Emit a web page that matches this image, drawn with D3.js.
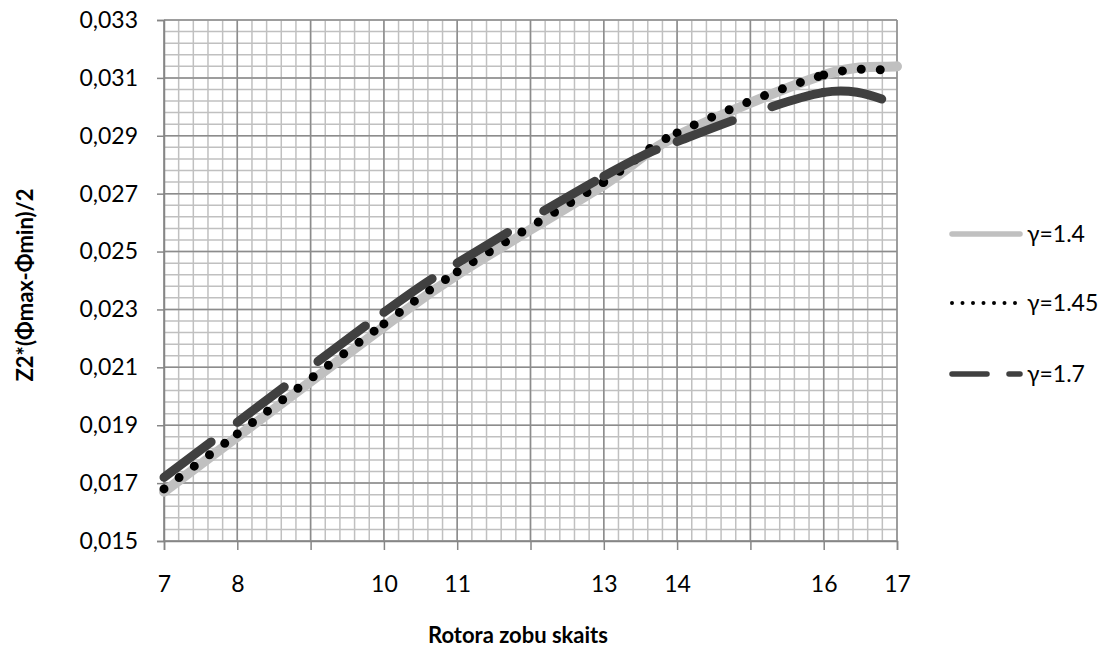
<!DOCTYPE html>
<html>
<head>
<meta charset="utf-8">
<script src="https://cdn.jsdelivr.net/npm/d3@7"></script>
<style>
  body { margin: 0; background: #fff; }
  text { font-family: Lato, 'Open Sans', sans-serif; fill: #000; }
</style>
</head>
<body>
<div id="chart"></div>
<script>
// data (teeth count vs value)
var categories = [7, 8, 10, 11, 13, 14, 16, 17];
var gamma140 = [0.0167, 0.0186, 0.0224, 0.0242, 0.0273, 0.0290, 0.0311, 0.0314];
var gamma145 = [0.0168, 0.0187, 0.0225, 0.0243, 0.0274, 0.0291, 0.0311, 0.03125];
var gamma170 = [0.0172, 0.0191, 0.0229, 0.0246, 0.0276, 0.0288, 0.0305, 0.0301];
var xTicks = [7, 8, 9, 10, 11, 12, 13, 14, 15, 16, 17];
var yTicks = [0.015, 0.017, 0.019, 0.021, 0.023, 0.025, 0.027, 0.029, 0.031, 0.033];
var seriesNames = ['γ=1.4', 'γ=1.45', 'γ=1.7'];

var width = 1103, height = 647;
var plotLeft = 164, plotRight = 897, plotTop = 20, plotBottom = 541;

var svg = d3.select('#chart').append('svg')
    .attr('width', width)
    .attr('height', height);

var x = d3.scaleLinear().domain([7, 17]).range([plotLeft, plotRight]);
var y = d3.scaleLinear().domain([0.015, 0.033]).range([plotBottom, plotTop]);

// minor grid
var grid = svg.append('g');
d3.range(0, 51).forEach(function(i){
    var v = 7 + i * 0.2;
    grid.append('line')
        .attr('x1', x(v)).attr('x2', x(v))
        .attr('y1', plotTop).attr('y2', plotBottom)
        .attr('stroke', '#c0c0c0').attr('stroke-width', 1.5);
});
d3.range(0, 46).forEach(function(i){
    var v = 0.015 + i * 0.0004;
    grid.append('line')
        .attr('x1', plotLeft).attr('x2', plotRight)
        .attr('y1', y(v)).attr('y2', y(v))
        .attr('stroke', '#c0c0c0').attr('stroke-width', 1.5);
});
// major grid
xTicks.forEach(function(v){
    grid.append('line')
        .attr('x1', x(v)).attr('x2', x(v))
        .attr('y1', plotTop).attr('y2', plotBottom)
        .attr('stroke', '#8c8c8c').attr('stroke-width', 1.5);
});
yTicks.forEach(function(v){
    grid.append('line')
        .attr('x1', plotLeft).attr('x2', plotRight)
        .attr('y1', y(v)).attr('y2', y(v))
        .attr('stroke', '#8c8c8c').attr('stroke-width', 1.5);
});

// axes
var lt = d3.formatLocale({decimal: ',', thousands: ' ', grouping: [3], currency: ['', '']});
var yAxis = d3.axisLeft(y).tickValues(yTicks).tickSize(7).tickPadding(19)
    .tickFormat(lt.format('.3f'));
var xAxis = d3.axisBottom(x).tickValues(xTicks).tickSize(9).tickPadding(26)
    .tickFormat(function(d){ return categories.indexOf(d) >= 0 ? d : ''; });

svg.append('g').attr('transform', 'translate(' + plotLeft + ',0)').call(yAxis);
svg.append('g').attr('transform', 'translate(0,' + plotBottom + ')').call(xAxis);
svg.selectAll('.domain').attr('stroke', '#868686').attr('stroke-width', 1.5);
svg.selectAll('.tick line').attr('stroke', '#868686').attr('stroke-width', 1.5);
svg.selectAll('.tick text').style('font-size', '23px').attr('fill', '#000');

// smoothed segments between points, each one drawn alone so the dash restarts (like Excel)
function segments(vals){
    var pts = categories.map(function(c, i){ return [x(c), y(vals[i])]; });
    var out = [];
    for (var i = 0; i < pts.length - 1; i++) {
        var p0 = pts[Math.max(i - 1, 0)], p1 = pts[i], p2 = pts[i + 1], p3 = pts[Math.min(i + 2, pts.length - 1)];
        var p = d3.path();
        p.moveTo(p1[0], p1[1]);
        p.bezierCurveTo(
            p1[0] + (p2[0] - p0[0]) / 6, p1[1] + (p2[1] - p0[1]) / 6,
            p2[0] - (p3[0] - p1[0]) / 6, p2[1] - (p3[1] - p1[1]) / 6,
            p2[0], p2[1]);
        out.push(p.toString());
    }
    return out;
}

var styles = [
    {data: gamma140, color: '#c0c0c0', w: 10, dash: null, lw: 5.5, ldash: null},
    {data: gamma145, color: '#000000', w: 9, dash: '0,19', lw: 4, ldash: '0,10.5'},
    {data: gamma170, color: '#404040', w: 9, dash: '59,42', lw: 5.5, ldash: '35,22'}
];

styles.forEach(function(s){
    svg.append('g').selectAll('path')
        .data(segments(s.data))
        .enter()
        .append('path')
        .attr('d', function(d){ return d; })
        .attr('fill', 'none')
        .attr('stroke', s.color)
        .attr('stroke-width', s.w)
        .attr('stroke-linecap', 'round')
        .attr('stroke-dasharray', s.dash);
});

// legend
var legY = [234, 303, 374];
styles.forEach(function(s, i){
    svg.append('line')
        .attr('x1', 952).attr('x2', 1020)
        .attr('y1', legY[i]).attr('y2', legY[i])
        .attr('stroke', s.color)
        .attr('stroke-width', s.lw)
        .attr('stroke-linecap', 'round')
        .attr('stroke-dasharray', s.ldash);
    svg.append('text')
        .attr('x', 1027).attr('y', legY[i])
        .attr('dy', '0.35em')
        .style('font-size', '23px')
        .text(seriesNames[i]);
});

// titles
svg.append('text')
    .attr('x', 518).attr('y', 643)
    .attr('text-anchor', 'middle')
    .style('font-size', '22px').style('font-weight', 'bold')
    .text('Rotora zobu skaits');

svg.append('text')
    .attr('transform', 'translate(33,285) rotate(-90)')
    .attr('text-anchor', 'middle')
    .style('font-size', '22px').style('font-weight', 'bold')
    .text('Z2*(Φmax-Φmin)/2');
</script>
</body>
</html>
